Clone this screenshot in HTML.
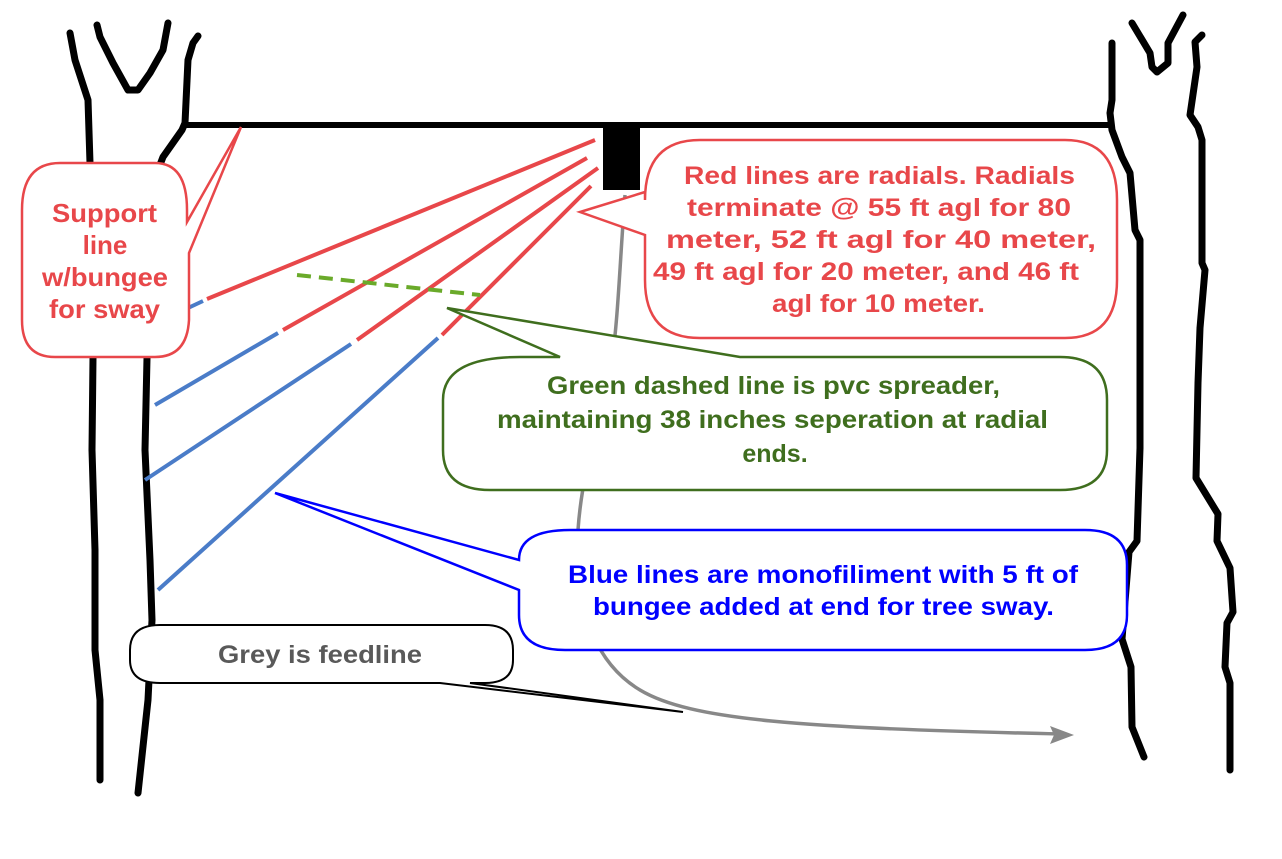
<!DOCTYPE html>
<html><head><meta charset="utf-8"><style>
html,body{margin:0;padding:0;background:#fff;}
svg{display:block;}
text{font-family:"Liberation Sans",Arial,sans-serif;font-weight:bold;}
</style></head><body>
<svg width="1282" height="859" viewBox="0 0 1282 859" xmlns="http://www.w3.org/2000/svg">
<g fill="none" stroke="#000" stroke-width="7" stroke-linecap="round" stroke-linejoin="round">
<polyline points="70,33 75,60 88,100 90,163 91,260 93,358 92,450 95,550 95,650 100,700 100,780"/>
<polyline points="97,25 100,37 113,63 128,90 138,90 150,73 163,50 168,23"/>
<polyline points="198,36 193,43 188,60 185,123 182,130 163,157 158,170 152,260 147,358 145,450 150,560 152,620 148,700 138,793"/>
<polyline points="1112,43 1112,100 1110,113 1112,130 1122,157 1130,173 1135,230 1140,240 1140,448 1137,541 1129,552 1122,639 1131,667 1132,727 1144,757"/>
<polyline points="1132,23 1150,53 1152,67 1157,72 1168,63 1168,43 1183,15"/>
<polyline points="1202,35 1195,42 1197,67 1190,115 1198,127 1202,140 1202,263 1205,270 1200,328 1198,383 1196,478 1218,514 1217,541 1230,568 1233,612 1227,623 1225,667 1230,683 1230,770"/>
</g>
<line x1="183" y1="125" x2="1112" y2="125" stroke="#000" stroke-width="6"/>
<rect x="603" y="126" width="37" height="64" fill="#000"/>
<path d="M625,195 C620,260 618,320 612,360 C600,420 582,470 578,530 C575,600 590,660 640,690 C690,720 800,728 1060,734" fill="none" stroke="#888" stroke-width="3.5"/>
<polygon points="1074,735 1050,726 1054,735 1050,744" fill="#888"/>
<g stroke-width="4" fill="none">
<line x1="595" y1="140" x2="207" y2="299" stroke="#e8474a"/>
<line x1="203" y1="301" x2="188" y2="308" stroke="#4a7cc8"/>
<line x1="587" y1="158" x2="283" y2="330" stroke="#e8474a"/>
<line x1="278" y1="333" x2="155" y2="405" stroke="#4a7cc8"/>
<line x1="598" y1="168" x2="357" y2="340" stroke="#e8474a"/>
<line x1="351" y1="344" x2="145" y2="480" stroke="#4a7cc8"/>
<line x1="591" y1="186" x2="442" y2="335" stroke="#e8474a"/>
<line x1="438" y1="338" x2="158" y2="590" stroke="#4a7cc8"/>
<line x1="297" y1="275" x2="480" y2="295" stroke="#6aaa2a" stroke-dasharray="14,8"/>
</g>
<path d="M60,163 H155 Q187,163 187,210 V222 L241,127 L189,253 V320 Q187,357 155,357 H55 Q22,357 22,320 V210 Q22,163 60,163 Z" fill="#fff" stroke="#e8474a" stroke-width="2.5"/>
<g fill="#e8474a" font-size="26">
<text x="52" y="222" textLength="105" lengthAdjust="spacingAndGlyphs">Support</text>
<text x="105" y="254" text-anchor="middle">line</text>
<text x="42" y="286" textLength="126" lengthAdjust="spacingAndGlyphs">w/bungee</text>
<text x="49" y="318" textLength="111" lengthAdjust="spacingAndGlyphs">for sway</text>
</g>
<path d="M700,140 H1065 Q1117,140 1117,200 V280 Q1117,338 1065,338 H700 Q645,338 645,280 V235 L580,212 L645,192 V200 Q645,140 700,140 Z" fill="#fff" stroke="#e8474a" stroke-width="2.5"/>
<g fill="#e8474a" font-size="25">
<text x="684" y="184" textLength="391" lengthAdjust="spacingAndGlyphs">Red lines are radials.  Radials</text>
<text x="687" y="216" textLength="384" lengthAdjust="spacingAndGlyphs">terminate @ 55 ft agl for 80</text>
<text x="666" y="248" textLength="430" lengthAdjust="spacingAndGlyphs">meter, 52 ft agl for 40 meter,</text>
<text x="653" y="280" textLength="426" lengthAdjust="spacingAndGlyphs">49 ft agl for 20 meter, and 46 ft</text>
<text x="772" y="312" textLength="213" lengthAdjust="spacingAndGlyphs">agl for 10 meter.</text>
</g>
<path d="M520,357 H560 L447,308 L740,357 H1060 Q1107,357 1107,400 V450 Q1107,490 1060,490 H490 Q443,490 443,450 V400 Q443,357 520,357 Z" fill="#fff" stroke="#3f6e1e" stroke-width="2.5"/>
<g fill="#3f6e1e" font-size="25">
<text x="547" y="394" textLength="453" lengthAdjust="spacingAndGlyphs">Green dashed line is pvc spreader,</text>
<text x="497" y="428" textLength="551" lengthAdjust="spacingAndGlyphs">maintaining 38 inches seperation at radial</text>
<text x="775" y="462" text-anchor="middle">ends.</text>
</g>
<path d="M570,530 H1085 Q1127,530 1127,565 V615 Q1127,650 1085,650 H565 Q519,650 519,615 V590 L275,493 L519,560 Q519,530 570,530 Z" fill="#fff" stroke="#0000ff" stroke-width="2.5"/>
<g fill="#0000ff" font-size="25">
<text x="568" y="583" textLength="510" lengthAdjust="spacingAndGlyphs">Blue lines are monofiliment with 5 ft of</text>
<text x="593" y="615" textLength="461" lengthAdjust="spacingAndGlyphs">bungee added at end for tree sway.</text>
</g>
<path d="M160,625 H485 Q513,625 513,650 V660 Q513,683 485,683 H470 L683,712 L440,683 H160 Q130,683 130,660 V650 Q130,625 160,625 Z" fill="#fff" stroke="#000" stroke-width="2"/>
<text x="218" y="663" fill="#595959" font-size="25" textLength="204" lengthAdjust="spacingAndGlyphs">Grey is feedline</text>
</svg>
</body></html>
